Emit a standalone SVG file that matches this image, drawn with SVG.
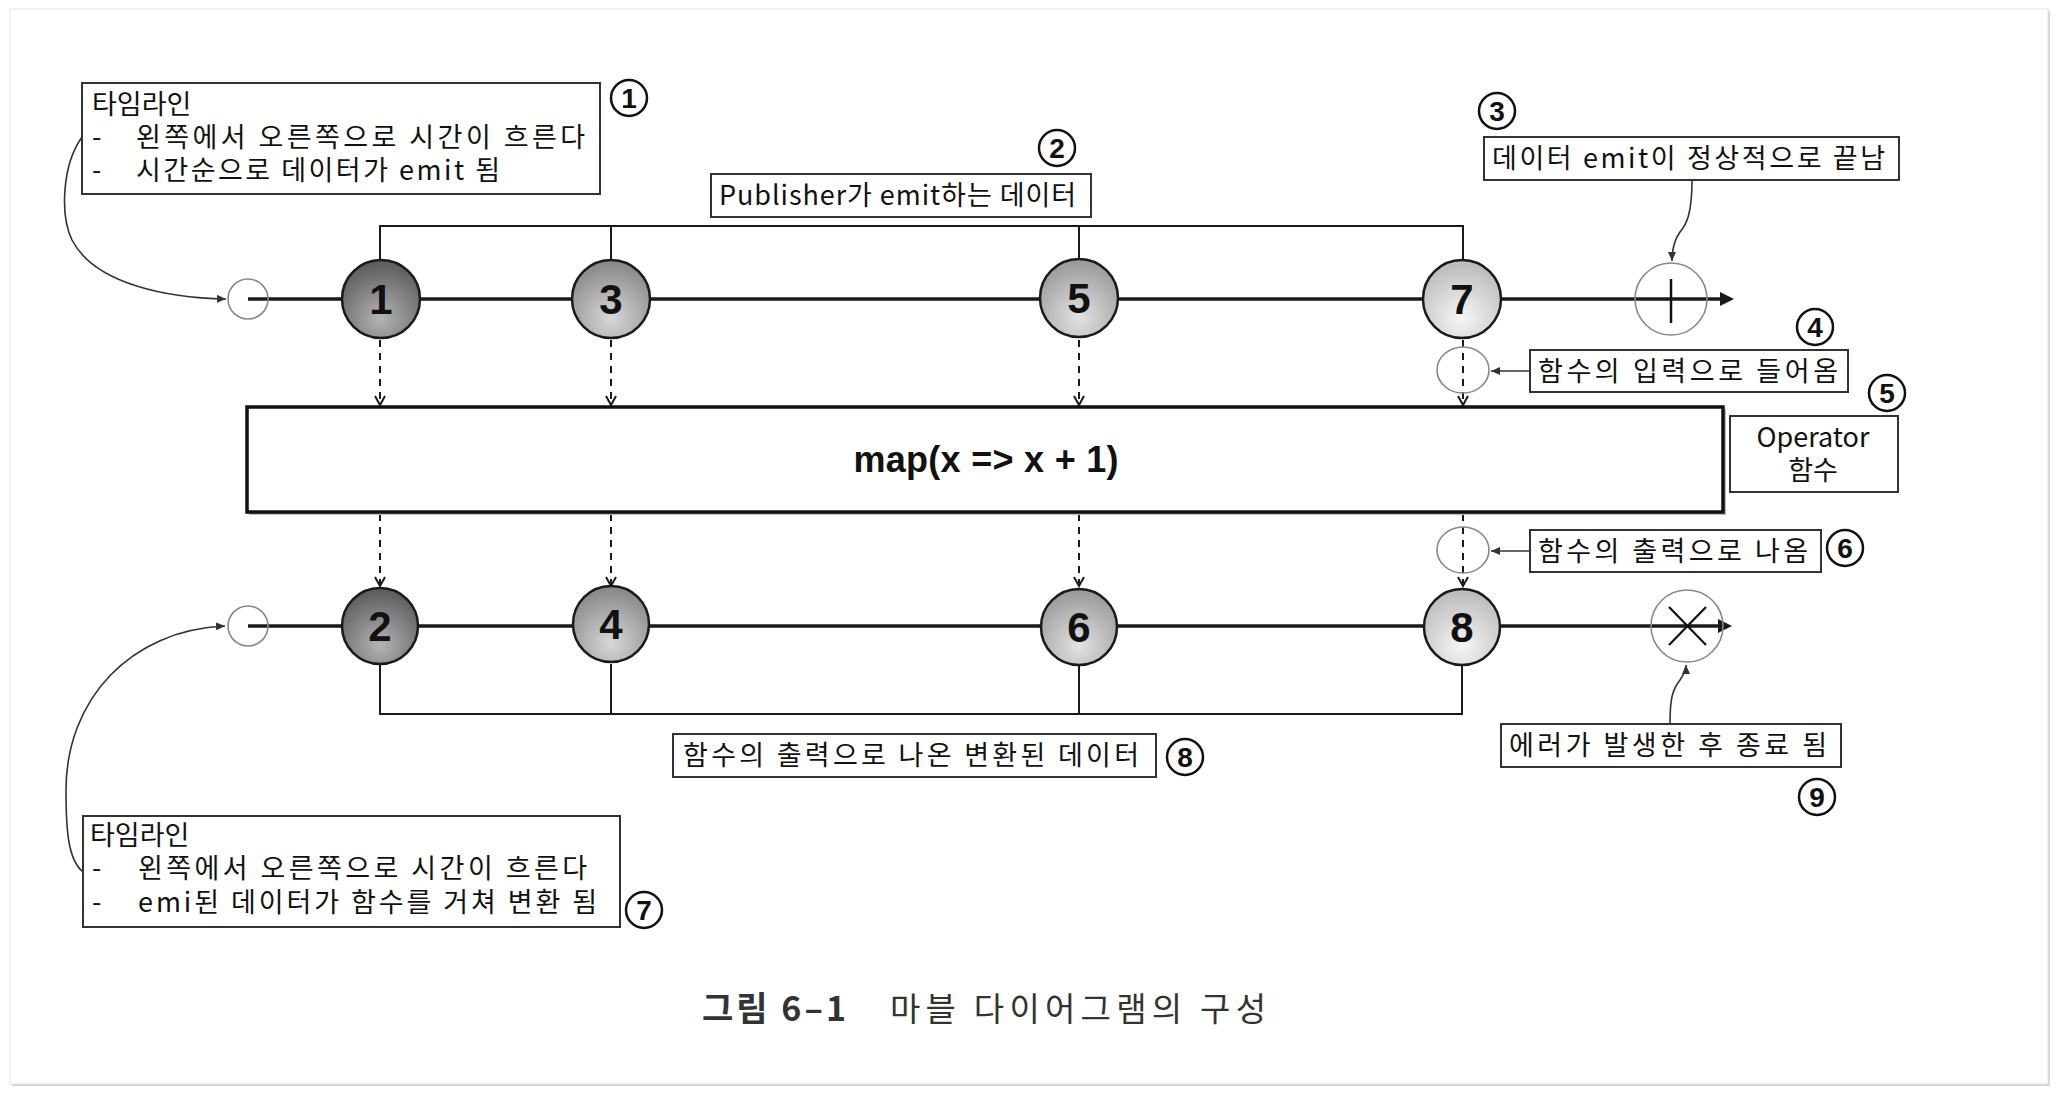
<svg xmlns="http://www.w3.org/2000/svg" width="2058" height="1094" viewBox="0 0 2058 1094">
<style>
.lbl{font-family:"Noto Sans CJK KR","Noto Sans",sans-serif;font-size:27px;fill:#111}
.box{fill:#fff;stroke:#333;stroke-width:2}
.cn circle{fill:#fff;stroke:#111;stroke-width:2.5}
.cn text{font-family:"Liberation Sans",Arial,sans-serif;font-weight:bold;font-size:28px;text-anchor:middle;fill:#111}
.node circle{stroke:#1a1a1a;stroke-width:2.5}
.node text{font-family:"Liberation Sans",Arial,sans-serif;font-weight:bold;font-size:42px;text-anchor:middle;fill:#111}
.tl{stroke:#1a1a1a;stroke-width:3.5;fill:none}
.br{stroke:#1a1a1a;stroke-width:2;fill:none}
.dash{stroke:#1a1a1a;stroke-width:2;stroke-dasharray:7 6;fill:none}
.thin{stroke:#333;stroke-width:1.6;fill:none}
.sc{fill:none;stroke:#888;stroke-width:1.6}
</style>
<defs>
<radialGradient id="g1" cx="50%" cy="75%" r="70%"><stop offset="0" stop-color="#b4b4b4"/><stop offset="1" stop-color="#5e5e5e"/></radialGradient>
<radialGradient id="g2" cx="50%" cy="75%" r="70%"><stop offset="0" stop-color="#d8d8d8"/><stop offset="1" stop-color="#8a8a8a"/></radialGradient>
<radialGradient id="g3" cx="50%" cy="75%" r="70%"><stop offset="0" stop-color="#e2e2e2"/><stop offset="1" stop-color="#9c9c9c"/></radialGradient>
<radialGradient id="g4" cx="50%" cy="75%" r="70%"><stop offset="0" stop-color="#f6f6f6"/><stop offset="1" stop-color="#bdbdbd"/></radialGradient>
<marker id="av" markerWidth="12" markerHeight="12" refX="10" refY="6" orient="auto" markerUnits="userSpaceOnUse"><path d="M1,1 L10,6 L1,11" fill="none" stroke="#1a1a1a" stroke-width="2"/></marker>
<marker id="as" markerWidth="10" markerHeight="8" refX="9" refY="4" orient="auto" markerUnits="userSpaceOnUse"><path d="M0,0 L9,4 L0,8 Z" fill="#333"/></marker>
</defs>
<rect x="0" y="0" width="2058" height="1094" fill="#fff"/>
<rect x="12" y="11" width="2038" height="1075" fill="#d4d4d4"/>
<rect x="10" y="9" width="2038" height="1075" fill="#fff" stroke="#e2e2e2" stroke-width="1"/>

<g id="connectors">
<line class="tl" x1="248" y1="299" x2="1722" y2="299"/>
<path d="M1720,292 L1734,299 L1720,306 Z" fill="#1a1a1a"/>
<line class="tl" x1="248" y1="626" x2="1720" y2="626"/>
<path d="M1718,619 L1732,626 L1718,633 Z" fill="#1a1a1a"/>
<path class="br" d="M380,260 V226 H1463 V260 M611,226 V260 M1079,226 V260"/>
<path class="br" d="M380,664 V714 H1462 V664 M611,664 V714 M1079,664 V714"/>
<line class="dash" x1="380" y1="340" x2="380" y2="405" marker-end="url(#av)"/>
<line class="dash" x1="611" y1="340" x2="611" y2="405" marker-end="url(#av)"/>
<line class="dash" x1="1079" y1="340" x2="1079" y2="405" marker-end="url(#av)"/>
<line class="dash" x1="1463" y1="340" x2="1463" y2="405" marker-end="url(#av)"/>
<line class="dash" x1="380" y1="514" x2="380" y2="586" marker-end="url(#av)"/>
<line class="dash" x1="611" y1="514" x2="611" y2="586" marker-end="url(#av)"/>
<line class="dash" x1="1079" y1="514" x2="1079" y2="586" marker-end="url(#av)"/>
<line class="dash" x1="1463" y1="514" x2="1463" y2="586" marker-end="url(#av)"/>
<path class="thin" d="M82,137 C62,165 60,215 72,240 C95,285 170,298 226,299" marker-end="url(#as)"/>
<path class="thin" d="M83,872 C68,860 66,830 66,790 C66,700 130,630 225,626" marker-end="url(#as)"/>
<path class="thin" d="M1692,180 C1692,215 1686,225 1680,232 C1673,242 1672,252 1672,261" marker-end="url(#as)"/>
<path class="thin" d="M1670,724 C1670,700 1672,690 1680,680 C1684,674 1686,670 1686,665" marker-end="url(#as)"/>
<line class="thin" x1="1530" y1="371" x2="1491" y2="371" marker-end="url(#as)"/>
<line class="thin" x1="1530" y1="551" x2="1491" y2="551" marker-end="url(#as)"/>
</g>

<g id="start-top"><circle class="sc" cx="248" cy="299" r="20"/></g>
<g id="start-bottom"><circle class="sc" cx="248" cy="626" r="20"/></g>
<g id="in-mark"><ellipse class="sc" cx="1463" cy="370" rx="26" ry="23"/></g>
<g id="out-mark"><ellipse class="sc" cx="1463" cy="550" rx="26" ry="23"/></g>
<g id="complete"><circle class="sc" cx="1671" cy="299" r="36" stroke="#777"/><line x1="1671" y1="279" x2="1671" y2="323" stroke="#111" stroke-width="2.5"/></g>
<g id="error"><circle class="sc" cx="1687" cy="626" r="36" stroke="#777"/><path d="M1669,607 L1706,645 M1706,607 L1669,645" stroke="#111" stroke-width="2.2"/></g>

<g id="n1" class="node"><circle cx="381" cy="299" r="39" fill="url(#g1)"/><text x="381" y="314">1</text></g>
<g id="n3" class="node"><circle cx="611" cy="299" r="39" fill="url(#g2)"/><text x="611" y="314">3</text></g>
<g id="n5" class="node"><circle cx="1079" cy="298" r="39" fill="url(#g3)"/><text x="1079" y="313">5</text></g>
<g id="n7" class="node"><circle cx="1462" cy="299" r="39" fill="url(#g4)"/><text x="1462" y="314">7</text></g>
<g id="n2" class="node"><circle cx="380" cy="626" r="38" fill="url(#g1)"/><text x="380" y="641">2</text></g>
<g id="n4" class="node"><circle cx="611" cy="624" r="38" fill="url(#g2)"/><text x="611" y="639">4</text></g>
<g id="n6" class="node"><circle cx="1079" cy="627" r="38" fill="url(#g3)"/><text x="1079" y="642">6</text></g>
<g id="n8" class="node"><circle cx="1462" cy="627" r="38" fill="url(#g4)"/><text x="1462" y="642">8</text></g>

<g id="operator-box">
<rect x="249" y="409" width="1477" height="106" fill="#bbb"/>
<rect x="247" y="407" width="1476" height="105" fill="#fff" stroke="#111" stroke-width="3.5"/>
<text x="986" y="472" font-family="Liberation Sans, Arial, sans-serif" font-weight="bold" font-size="36" text-anchor="middle" textLength="265" fill="#111">map(x =&gt; x + 1)</text>
</g>

<g id="label-timeline-top">
<rect class="box" x="82" y="83" width="518" height="111" stroke-width="2.5"/>
<text class="lbl"><tspan x="92" y="114">타임라인</tspan><tspan x="92" y="147">-</tspan><tspan x="136" y="147" textLength="449">왼쪽에서 오른쪽으로 시간이 흐른다</tspan><tspan x="92" y="180">-</tspan><tspan x="136" y="180" textLength="364">시간순으로 데이터가 emit 됨</tspan></text>
</g>
<g id="label-publisher">
<rect class="box" x="711" y="174" width="380" height="43"/>
<text class="lbl" x="719" y="205" textLength="357">Publisher가 emit하는 데이터</text>
</g>
<g id="label-complete">
<rect class="box" x="1484" y="137" width="415" height="43"/>
<text class="lbl" x="1492" y="168" textLength="393">데이터 emit이 정상적으로 끝남</text>
</g>
<g id="label-input">
<rect class="box" x="1530" y="350" width="318" height="42"/>
<text class="lbl" x="1538" y="381" textLength="300">함수의 입력으로 들어옴</text>
</g>
<g id="label-operator">
<rect class="box" x="1730" y="416" width="168" height="76"/>
<text class="lbl" text-anchor="middle" font-size="26"><tspan x="1813" y="447">Operator</tspan><tspan x="1813" y="480">함수</tspan></text>
</g>
<g id="label-output">
<rect class="box" x="1530" y="530" width="291" height="42"/>
<text class="lbl" x="1538" y="561" textLength="270">함수의 출력으로 나옴</text>
</g>
<g id="label-transformed">
<rect class="box" x="673" y="734" width="483" height="43"/>
<text class="lbl" x="683" y="765" textLength="456">함수의 출력으로 나온 변환된 데이터</text>
</g>
<g id="label-error">
<rect class="box" x="1501" y="724" width="340" height="43"/>
<text class="lbl" x="1509" y="755" textLength="318">에러가 발생한 후 종료 됨</text>
</g>
<g id="label-timeline-bottom">
<rect class="box" x="83" y="816" width="537" height="111" stroke-width="2.5"/>
<text class="lbl"><tspan x="90" y="845">타임라인</tspan><tspan x="92" y="878">-</tspan><tspan x="138" y="878" textLength="449">왼쪽에서 오른쪽으로 시간이 흐른다</tspan><tspan x="92" y="912">-</tspan><tspan x="138" y="912" textLength="459">emi된 데이터가 함수를 거쳐 변환 됨</tspan></text>
</g>

<g id="num1" class="cn"><circle cx="629" cy="98" r="18"/><text x="629" y="108">1</text></g>
<g id="num2" class="cn"><circle cx="1057" cy="148" r="18"/><text x="1057" y="158">2</text></g>
<g id="num3" class="cn"><circle cx="1497" cy="111" r="18"/><text x="1497" y="121">3</text></g>
<g id="num4" class="cn"><circle cx="1815" cy="327" r="18"/><text x="1815" y="337">4</text></g>
<g id="num5" class="cn"><circle cx="1887" cy="393" r="18"/><text x="1887" y="403">5</text></g>
<g id="num6" class="cn"><circle cx="1845" cy="548" r="18"/><text x="1845" y="558">6</text></g>
<g id="num7" class="cn"><circle cx="644" cy="910" r="18"/><text x="644" y="920">7</text></g>
<g id="num8" class="cn"><circle cx="1185" cy="757" r="18"/><text x="1185" y="767">8</text></g>
<g id="num9" class="cn"><circle cx="1817" cy="797" r="18"/><text x="1817" y="807">9</text></g>

<g id="caption">
<text x="702" y="1021" font-family="Noto Sans CJK KR, Noto Sans, sans-serif" font-weight="bold" font-size="34" fill="#333" textLength="144">그림 6–1</text>
<text x="890" y="1021" font-family="Noto Sans CJK KR, Noto Sans, sans-serif" font-size="33" fill="#333" textLength="376">마블 다이어그램의 구성</text>
</g>
</svg>
